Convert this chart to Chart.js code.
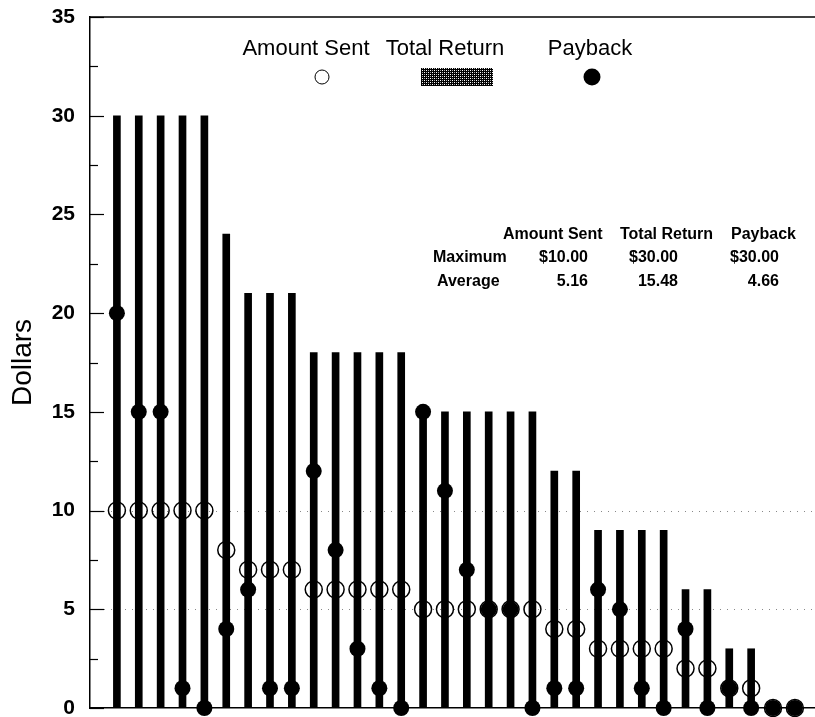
<!DOCTYPE html>
<html>
<head>
<meta charset="utf-8">
<script src="https://cdn.jsdelivr.net/npm/chart.js@4.4.1/dist/chart.umd.min.js"></script>
<style>
  html, body { margin: 0; padding: 0; background: #fff; }
  #wrap { width: 815px; height: 717px; }
</style>
</head>
<body>
<div id="wrap"><canvas id="chart" width="815" height="717"></canvas></div>
<script>
// one entry per subject, sorted by total return
const subjects = [1,2,3,4,5,6,7,8,9,10,11,12,13,14,15,16,17,18,19,20,21,22,23,24,25,26,27,28,29,30,31,32];
const amountSent  = [10,10,10,10,10, 8, 7, 7, 7, 6, 6, 6, 6, 6, 5, 5, 5, 5, 5, 5, 4, 4, 3, 3, 3, 3, 2, 2, 1, 1, 0, 0];
const totalReturn = [30,30,30,30,30,24,21,21,21,18,18,18,18,18,15,15,15,15,15,15,12,12, 9, 9, 9, 9, 6, 6, 3, 3, 0, 0];
const payback     = [20,15,15, 1, 0, 4, 6, 1, 1,12, 8, 3, 1, 0,15,11, 7, 5, 5, 0, 1, 1, 6, 5, 1, 0, 4, 0, 1, 0, 0, 0];
const yTicks = [0, 5, 10, 15, 20, 25, 30, 35];

const tableHead = ['Amount Sent', 'Total Return', 'Payback'];
const tableRows = [
  ['Maximum', '$10.00', '$30.00', '$30.00'],
  ['Average', '5.16', '15.48', '4.66']
];

const pts = arr => arr.map((v, i) => ({ x: i, y: v }));

// bits drawn by hand: inner ticks, frame top, dotted lines, legend, table
const extras = {
  id: 'extras',
  beforeDatasetsDraw(chart) {
    const { ctx, chartArea: a, scales: { y } } = chart;
    ctx.save();
    ctx.strokeStyle = '#888';
    ctx.lineWidth = 1;
    ctx.setLineDash([1, 6]);
    [5, 10].forEach(v => {
      const py = Math.round(y.getPixelForValue(v)) + 0.5;
      ctx.beginPath(); ctx.moveTo(a.left, py); ctx.lineTo(a.right, py); ctx.stroke();
    });
    ctx.restore();
  },
  afterDraw(chart) {
    const { ctx, chartArea: a, scales: { y } } = chart;
    ctx.save();
    ctx.strokeStyle = '#000';
    ctx.lineWidth = 1.5;
    // top of frame
    ctx.beginPath(); ctx.moveTo(a.left, a.top); ctx.lineTo(a.right, a.top); ctx.stroke();
    // ticks pointing inward
    ctx.lineWidth = 1.2;
    for (let v = 0; v <= 35; v += 2.5) {
      const py = Math.round(y.getPixelForValue(v)) + 0.5;
      const len = v % 5 === 0 ? 14 : 8;
      ctx.beginPath(); ctx.moveTo(a.left, py); ctx.lineTo(a.left + len, py); ctx.stroke();
    }

    // legend
    ctx.fillStyle = '#000';
    ctx.font = '22px Arial, "Liberation Sans", sans-serif';
    ctx.textAlign = 'center';
    ctx.textBaseline = 'middle';
    ctx.fillText('Amount Sent', 306, 49);
    ctx.fillText('Total Return', 445, 49);
    ctx.fillText('Payback', 590, 49);

    ctx.lineWidth = 1;
    ctx.beginPath(); ctx.arc(322, 77, 7, 0, Math.PI * 2); ctx.stroke();

    const pc = document.createElement('canvas');
    pc.width = 4; pc.height = 4;
    const p = pc.getContext('2d');
    p.fillStyle = '#000'; p.fillRect(0, 0, 4, 4);
    p.fillStyle = '#fff'; p.fillRect(0, 0, 1, 1); p.fillRect(2, 2, 1, 1);
    p.fillStyle = '#aaa'; p.fillRect(2, 0, 1, 1); p.fillRect(0, 2, 1, 1);
    ctx.fillStyle = ctx.createPattern(pc, 'repeat');
    ctx.fillRect(421, 68, 72, 18);

    ctx.fillStyle = '#000';
    ctx.beginPath(); ctx.arc(592, 77, 8.5, 0, Math.PI * 2); ctx.fill();

    // summary table
    ctx.font = 'bold 16px Arial, "Liberation Sans", sans-serif';
    ctx.textAlign = 'left';
    ctx.fillText(tableHead[0], 503, 235);
    ctx.fillText(tableHead[1], 620, 235);
    ctx.fillText(tableHead[2], 731, 235);
    const labelX = [433, 437];
    const colRight = [588, 678, 779];
    const rowY = [258, 282];
    tableRows.forEach((r, ri) => {
      ctx.textAlign = 'left';
      ctx.fillText(r[0], labelX[ri], rowY[ri]);
      ctx.textAlign = 'right';
      for (let c = 1; c < r.length; c++) ctx.fillText(r[c], colRight[c - 1], rowY[ri]);
    });
    ctx.restore();
  }
};

new Chart(document.getElementById('chart'), {
  type: 'bar',
  data: {
    labels: subjects,
    datasets: [
      {
        type: 'line',
        label: 'Amount Sent',
        data: pts(amountSent),
        showLine: false,
        pointRadius: 8.5,
        pointBorderWidth: 1.5,
        pointBorderColor: '#000',
        pointBackgroundColor: 'rgba(0,0,0,0)',
        clip: false,
        order: 0
      },
      {
        type: 'line',
        label: 'Payback',
        data: pts(payback),
        showLine: false,
        pointRadius: 8,
        pointBorderWidth: 0,
        pointBackgroundColor: '#000',
        clip: false,
        order: 1
      },
      {
        type: 'bar',
        label: 'Total Return',
        data: pts(totalReturn),
        backgroundColor: '#000',
        barThickness: 7,
        order: 2
      }
    ]
  },
  options: {
    responsive: false,
    animation: false,
    layout: { autoPadding: false, padding: { top: 17, right: 0, bottom: 9, left: 0 } },
    plugins: { legend: { display: false }, tooltip: { enabled: false } },
    scales: {
      x: {
        type: 'linear',
        offset: false,
        min: -1.23,
        max: 31.92,
        ticks: { display: false },
        grid: { display: false, drawTicks: false },
        border: { display: true, color: '#000', width: 1.5 },
        afterFit: s => { s.height = 0; s.paddingLeft = 0; s.paddingRight = 0; }
      },
      y: {
        min: 0,
        max: 35,
        afterBuildTicks: s => { s.ticks = yTicks.map(v => ({ value: v })); },
        afterFit: s => { s.width = 90; s.paddingTop = 0; s.paddingBottom = 0; },
        ticks: {
          color: '#000',
          padding: 15,
          font: { family: 'Arial, "Liberation Sans", sans-serif', size: 21, weight: 'bold' }
        },
        grid: { display: false, drawTicks: false },
        border: { display: true, color: '#000', width: 1.5 },
        title: {
          display: true,
          text: 'Dollars',
          color: '#000',
          padding: { top: 6, bottom: 12 },
          font: { family: 'Arial, "Liberation Sans", sans-serif', size: 28, weight: 'normal' }
        }
      }
    }
  },
  plugins: [extras]
});
</script>
</body>
</html>
